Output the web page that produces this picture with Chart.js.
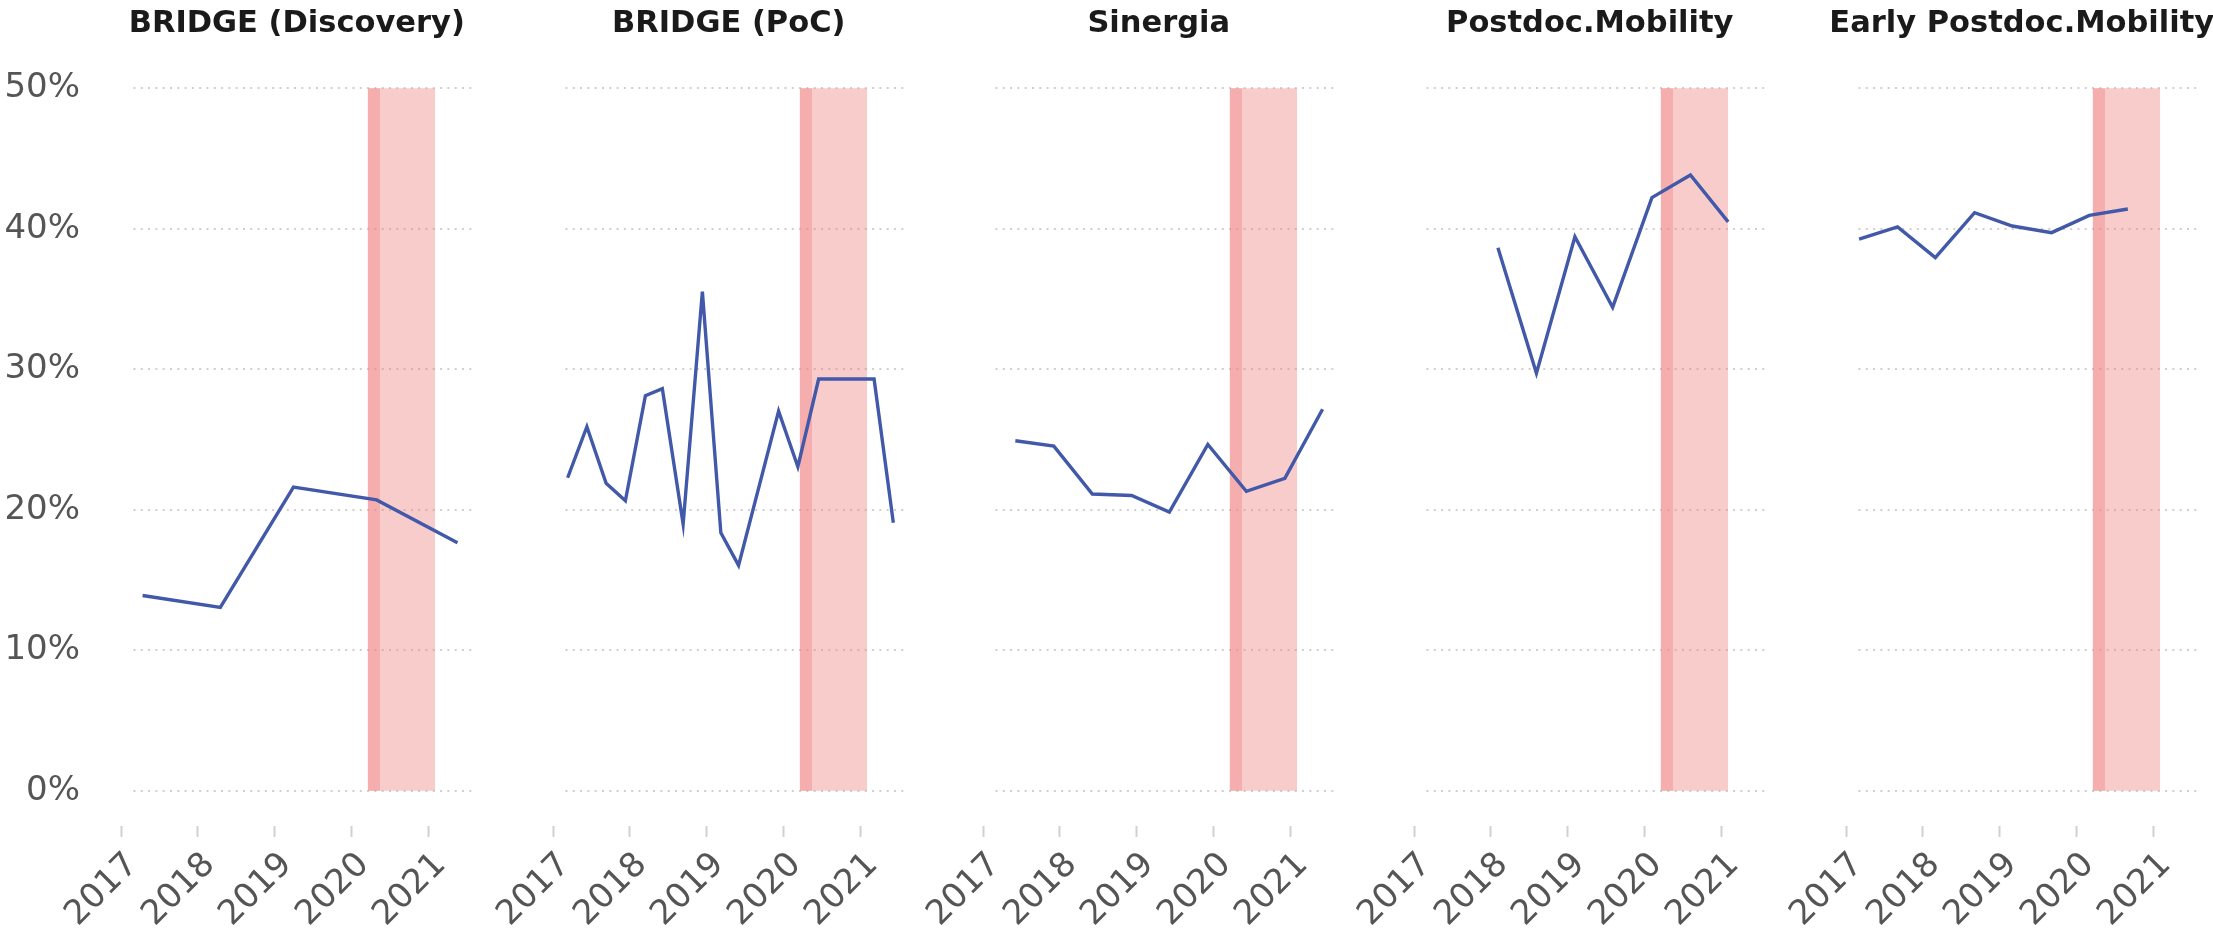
<!DOCTYPE html>
<html><head><meta charset="utf-8">
<script src="https://cdn.jsdelivr.net/npm/chart.js@4.4.1/dist/chart.umd.min.js"></script>
<style>
html,body{margin:0;padding:0;background:#fff;width:2213px;height:929px;overflow:hidden;position:relative;}
canvas{position:absolute;top:0;}
</style></head><body>
<script>
// ---- data ----
const panelTitles = ['BRIDGE (Discovery)', 'BRIDGE (PoC)', 'Sinergia', 'Postdoc.Mobility', 'Early Postdoc.Mobility'];

const discoveryDates = [2017.28, 2018.29, 2019.24, 2020.32, 2021.37];
const discoveryRates = [0.139, 0.1305, 0.2162, 0.207, 0.1765];

const pocDates = [2017.19, 2017.44, 2017.69, 2017.94, 2018.20, 2018.42, 2018.69, 2018.94, 2019.18, 2019.41, 2019.93, 2020.18, 2020.45, 2021.17, 2021.42];
const pocRates = [0.2228, 0.2591, 0.2188, 0.2064, 0.2811, 0.2861, 0.1898, 0.3552, 0.1836, 0.1604, 0.2702, 0.2306, 0.2930, 0.2930, 0.1907];

const sinergiaDates = [2017.42, 2017.92, 2018.42, 2018.93, 2019.42, 2019.92, 2020.42, 2020.92, 2021.41];
const sinergiaRates = [0.2491, 0.2453, 0.2112, 0.2102, 0.1984, 0.2465, 0.2131, 0.2223, 0.2715];

const postdocDates = [2018.09, 2018.59, 2019.09, 2019.58, 2020.09, 2020.59, 2021.08];
const postdocRates = [0.3865, 0.2971, 0.3943, 0.3441, 0.4221, 0.4382, 0.4048];

const earlyPostdocDates = [2017.17, 2017.67, 2018.16, 2018.67, 2019.16, 2019.67, 2020.16, 2020.66];
const earlyPostdocRates = [0.3925, 0.4012, 0.3794, 0.4114, 0.4019, 0.3972, 0.4095, 0.4140];

const yearTicks = [2017, 2018, 2019, 2020, 2021];
const rateTicks = [0, 0.1, 0.2, 0.3, 0.4, 0.5];

// shaded periods (decimal years)
const covidStart = 2020.203;
const lockdownEnd = 2020.364;
const covidEnd = 2021.081;
const bandTop = 0.5;

const seriesDates = [discoveryDates, pocDates, sinergiaDates, postdocDates, earlyPostdocDates];
const seriesRates = [discoveryRates, pocRates, sinergiaRates, postdocRates, earlyPostdocRates];

// ---- layout / style ----
const xMin = 2017, xMax = 2021.565, gridStart = 2017.162;
const yMin = -0.025, yMax = 0.525;
const panelLefts = [0, 432, 862, 1293, 1725];
const CW = 520, CH = 929;

Chart.defaults.font.family = "'DejaVu Sans', sans-serif";

const dottedGrid = {
  id: 'dottedGrid',
  beforeDatasetsDraw(chart) {
    const {ctx, chartArea, scales} = chart;
    const xs = scales.x, ys = scales.y;
    ctx.save();
    ctx.strokeStyle = '#cfcfcf';
    ctx.lineWidth = 2;
    ctx.setLineDash([2, 5.3]);
    const x0 = xs.getPixelForValue(gridStart);
    const x1 = chartArea.right;
    rateTicks.forEach(v => {
      const py = Math.round(ys.getPixelForValue(v));
      ctx.beginPath();
      ctx.moveTo(x0, py);
      ctx.lineTo(x1, py);
      ctx.stroke();
    });
    ctx.restore();
  }
};

const panelTitle = {
  id: 'panelTitle',
  afterDraw(chart, args, opts) {
    const {ctx, chartArea} = chart;
    ctx.save();
    ctx.font = "bold 30.5px 'DejaVu Sans', sans-serif";
    ctx.fillStyle = '#1a1a1a';
    ctx.textAlign = 'center';
    ctx.textBaseline = 'alphabetic';
    ctx.fillText(opts.text, (chartArea.left + chartArea.right) / 2, 31.7);
    ctx.restore();
  }
};

function band(x0, x1) {
  return {
    data: [{x: x0, y: bandTop}, {x: x1, y: bandTop}],
    fill: 'origin',
    backgroundColor: 'rgba(240,128,128,0.4)',
    borderColor: 'rgba(0,0,0,0)',
    borderWidth: 0,
    pointRadius: 0,
    order: 2
  };
}

panelTitles.forEach((title, i) => {
  const cv = document.createElement('canvas');
  cv.width = CW; cv.height = CH;
  cv.style.left = panelLefts[i] + 'px';
  cv.style.width = CW + 'px'; cv.style.height = CH + 'px';
  document.body.appendChild(cv);

  const lineData = seriesDates[i].map((d, k) => ({x: d, y: seriesRates[i][k]}));

  new Chart(cv, {
    type: 'line',
    data: {
      datasets: [
        {
          data: lineData,
          borderColor: '#4159a8',
          borderWidth: 3.4,
          pointRadius: 0,
          tension: 0,
          fill: false,
          order: 0
        },
        band(covidStart, covidEnd),
        band(covidStart, lockdownEnd)
      ]
    },
    options: {
      responsive: false,
      animation: false,
      devicePixelRatio: 1,
      layout: {padding: {left: 0, right: CW - 472.5, top: 53, bottom: 0}},
      plugins: {
        legend: {display: false},
        tooltip: {enabled: false},
        title: {display: false},
        panelTitle: {text: title}
      },
      scales: {
        x: {
          type: 'linear',
          min: xMin, max: xMax,
          afterBuildTicks: s => { s.ticks = yearTicks.map(v => ({value: v})); },
          afterFit: s => { s.height = CH - 826; s.paddingLeft = 0; s.paddingRight = 0; },
          border: {display: false},
          grid: {display: true, drawOnChartArea: false, drawTicks: true, tickLength: 11, tickColor: '#d0d0d0', tickWidth: 2},
          ticks: {
            autoSkip: false, minRotation: 45, maxRotation: 45,
            font: {size: 34}, color: '#555555',
            padding: 8, labelOffset: 11.7,
            callback: v => String(v)
          }
        },
        y: {
          type: 'linear',
          min: yMin, max: yMax,
          afterBuildTicks: s => { s.ticks = rateTicks.map(v => ({value: v})); },
          afterFit: s => { s.width = 121; s.paddingTop = 0; s.paddingBottom = 0; },
          border: {display: false},
          grid: {display: false, drawTicks: false},
          ticks: {
            display: i === 0,
            font: {size: 34}, color: '#555555',
            padding: 41,
            callback: v => Math.round(v * 100) + '%'
          }
        }
      }
    },
    plugins: [dottedGrid, panelTitle]
  });
});
</script>
</body></html>
